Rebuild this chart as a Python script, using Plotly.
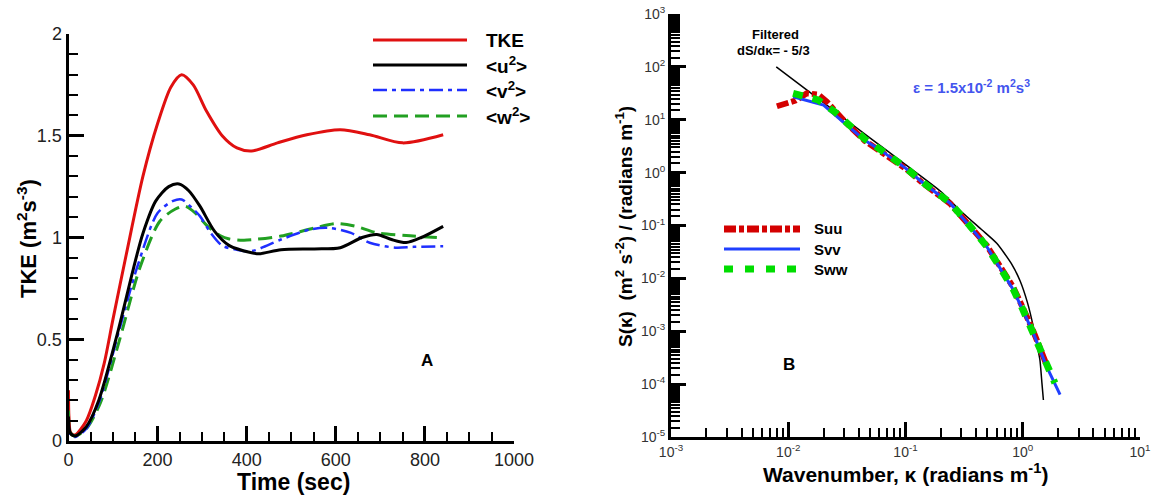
import plotly.graph_objects as go

# ---- panel A: TKE time series ----
t_tke = [0, 1, 5, 15, 40, 60, 80, 100, 130, 167, 200, 230, 254, 280, 310, 345, 378, 411, 469, 535, 610, 676, 750, 841]
tke = [0.25, 0.12, 0.04, 0.03, 0.10, 0.22, 0.38, 0.60, 0.92, 1.30, 1.56, 1.74, 1.80, 1.75, 1.62, 1.50, 1.44, 1.425, 1.465, 1.505, 1.53, 1.505, 1.465, 1.505]

t_u = [0, 4, 15, 40, 68, 110, 146, 167, 196, 225, 248, 270, 295, 328, 361, 411, 428, 477, 552, 610, 659, 692, 725, 758, 792, 841]
uu = [0.12, 0.04, 0.025, 0.07, 0.20, 0.53, 0.85, 1.02, 1.18, 1.25, 1.263, 1.23, 1.154, 1.03, 0.96, 0.925, 0.92, 0.94, 0.944, 0.95, 1.0, 1.015, 0.99, 0.975, 1.0, 1.055]

t_v = [0, 4, 15, 40, 70, 112, 155, 200, 235, 254, 275, 295, 320, 345, 378, 411, 477, 543, 585, 634, 676, 734, 775, 841]
vv = [0.10, 0.03, 0.02, 0.06, 0.20, 0.53, 0.86, 1.12, 1.18, 1.187, 1.15, 1.105, 1.02, 0.96, 0.94, 0.933, 0.99, 1.04, 1.047, 1.023, 0.974, 0.95, 0.954, 0.957]

t_w = [0, 4, 15, 40, 72, 115, 160, 205, 240, 262, 285, 312, 340, 361, 394, 477, 552, 601, 643, 692, 758, 841]
ww = [0.15, 0.04, 0.025, 0.06, 0.19, 0.50, 0.85, 1.08, 1.14, 1.154, 1.12, 1.056, 1.01, 0.993, 0.987, 1.007, 1.047, 1.069, 1.056, 1.023, 1.01, 0.998]

# ---- panel B: spectra ----
k_filt = [0.0079, 0.02, 0.05, 0.1, 0.2, 0.31, 0.45, 0.6, 0.8, 0.95, 1.1, 1.23, 1.32, 1.4, 1.46, 1.5]
s_filt = [100, 21, 4.5, 1.42, 0.44, 0.17, 0.082, 0.046, 0.019, 0.0089, 0.0034, 0.00123, 0.00056, 0.00029, 0.0001, 0.00005]

k_uu = [0.008, 0.0115, 0.0144, 0.018, 0.0213, 0.03, 0.045, 0.0607, 0.1, 0.142, 0.24, 0.355, 0.493, 0.65, 0.83, 1.0, 1.23, 1.6]
s_uu = [18, 23, 31.6, 30, 22, 9.5, 4.0, 2.6, 1.2, 0.62, 0.26, 0.097, 0.042, 0.016, 0.0068, 0.0028, 0.001, 0.00023]

k_vv = [0.011, 0.02, 0.0316, 0.045, 0.0607, 0.1, 0.142, 0.24, 0.355, 0.493, 0.65, 0.83, 1.0, 1.23, 1.6, 2.08]
s_vv = [27.3, 19, 7.9, 4.1, 2.69, 1.22, 0.63, 0.264, 0.095, 0.04, 0.0148, 0.0061, 0.0025, 0.00092, 0.000215, 0.000063]

k_ww = [0.011, 0.018, 0.025, 0.0316, 0.045, 0.0607, 0.1, 0.142, 0.24, 0.355, 0.493, 0.65, 0.83, 1.0, 1.23, 1.6, 1.88]
s_ww = [31.6, 23.7, 14, 8.5, 4.3, 2.75, 1.25, 0.64, 0.27, 0.098, 0.04, 0.0152, 0.0062, 0.0026, 0.00094, 0.00022, 0.000105]

W, H = 1154, 498
FONT = "Arial, Liberation Sans, sans-serif"
RED_A, BLUE_A, GREEN_A = "#e01010", "#1f2fff", "#22a022"
RED_B, BLUE_B, GREEN_B = "#d40000", "#2040ff", "#00dd00"


def px(x):
    return x / W


def py(y):
    return 1 - y / H


fig = go.Figure()

sp = dict(shape="spline", smoothing=0.8)
fig.add_trace(go.Scatter(x=t_tke, y=tke, mode="lines", line=dict(color=RED_A, width=3, **sp), xaxis="x", yaxis="y"))
fig.add_trace(go.Scatter(x=t_w, y=ww, mode="lines", line=dict(color=GREEN_A, width=3, dash="14px,7px", **sp), xaxis="x", yaxis="y"))
fig.add_trace(go.Scatter(x=t_v, y=vv, mode="lines", line=dict(color=BLUE_A, width=2.5, dash="14px,5px,4px,5px", **sp), xaxis="x", yaxis="y"))
fig.add_trace(go.Scatter(x=t_u, y=uu, mode="lines", line=dict(color="black", width=3, **sp), xaxis="x", yaxis="y"))

fig.add_trace(go.Scatter(x=k_filt, y=s_filt, mode="lines", line=dict(color="black", width=1.5, shape="spline", smoothing=0.6), xaxis="x2", yaxis="y2"))
fig.add_trace(go.Scatter(x=k_uu, y=s_uu, mode="lines", line=dict(color=RED_B, width=6, dash="12px,3px,5px,3px"), xaxis="x2", yaxis="y2"))
fig.add_trace(go.Scatter(x=k_vv, y=s_vv, mode="lines", line=dict(color=BLUE_B, width=3), xaxis="x2", yaxis="y2"))
fig.add_trace(go.Scatter(x=k_ww, y=s_ww, mode="lines", line=dict(color=GREEN_B, width=7, dash="10px,10px"), xaxis="x2", yaxis="y2"))

axis_common = dict(showgrid=False, zeroline=False, showline=True, linecolor="black", linewidth=3,
                   ticks="inside", ticklen=15, tickwidth=3, tickcolor="black", mirror=False, automargin=False)

fig.update_layout(
    width=W, height=H, margin=dict(l=0, r=0, t=0, b=0, autoexpand=False),
    paper_bgcolor="white", plot_bgcolor="white", showlegend=False,
    font=dict(family=FONT, color="#222"),
    xaxis=dict(domain=[px(68.5), px(514)], range=[0, 1000], dtick=200, anchor="y",
               tickfont=dict(size=18, color="#222"),
               minor=dict(dtick=50, ticks="inside", ticklen=9, tickwidth=1.5, tickcolor="black"),
               **axis_common),
    yaxis=dict(domain=[py(441), py(34)], range=[0, 2], dtick=0.5, anchor="x",
               tickfont=dict(size=18, color="#222"),
               minor=dict(dtick=0.1, ticks="inside", ticklen=9, tickwidth=1.5, tickcolor="black"),
               **axis_common),
    xaxis2=dict(domain=[px(671), px(1140)], type="log", range=[-3, 1], anchor="y2",
                tickmode="array", tickvals=[1e-3, 1e-2, 1e-1, 1, 10],
                ticktext=["10<sup>-3</sup>", "10<sup>-2</sup>", "10<sup>-1</sup>", "10<sup>0</sup>", "10<sup>1</sup>"],
                tickfont=dict(size=14, color="#333"),
                minor=dict(tickvals=[m * 10.0 ** e for e in range(-3, 1) for m in range(2, 10)],
                           ticks="inside", ticklen=9, tickwidth=1.5, tickcolor="black"),
                **axis_common),
    yaxis2=dict(domain=[py(437), py(14)], type="log", range=[-5, 3], anchor="x2",
                tickmode="array", tickvals=[10.0 ** e for e in range(-5, 4)],
                ticktext=["10<sup>%d</sup>" % e for e in range(-5, 4)],
                tickfont=dict(size=14, color="#333"),
                minor=dict(tickvals=[m / 2 * 10.0 ** e for e in range(-5, 3) for m in range(3, 20)],
                           ticks="inside", ticklen=9, tickwidth=1.5, tickcolor="black"),
                **axis_common),
)

shapes = []
anns = []


def legend_item(x0, x1, y, color, width, dash, label, tx, size):
    shapes.append(dict(type="line", xref="paper", yref="paper", x0=px(x0), x1=px(x1), y0=py(y), y1=py(y),
                       line=dict(color=color, width=width, dash=dash)))
    anns.append(dict(text=label, x=px(tx), y=py(y), xref="paper", yref="paper", xanchor="left", yanchor="middle",
                     showarrow=False, font=dict(size=size, color="black", family=FONT)))


legend_item(373, 467, 40, RED_A, 3, "solid", "<b>TKE</b>", 484, 19)
legend_item(373, 467, 65, "black", 3, "solid", "<b>&lt;u<sup>2</sup>&gt;</b>", 484, 19)
legend_item(373, 467, 90, BLUE_A, 2.5, "14px,5px,4px,5px", "<b>&lt;v<sup>2</sup>&gt;</b>", 484, 19)
legend_item(373, 467, 116, GREEN_A, 3, "14px,7px", "<b>&lt;w<sup>2</sup>&gt;</b>", 484, 19)

legend_item(724, 800, 229, RED_B, 7, "12px,3px,5px,3px", "<b>Suu</b>", 812, 15)
legend_item(724, 800, 249, BLUE_B, 3, "solid", "<b>Svv</b>", 812, 15)
legend_item(724, 800, 269, GREEN_B, 7, "9px,12px", "<b>Sww</b>", 812, 15)


def label(text, x, y, size, color="black", angle=0):
    anns.append(dict(text=text, x=px(x), y=py(y), xref="paper", yref="paper", xanchor="center", yanchor="middle",
                     showarrow=False, textangle=angle, font=dict(size=size, color=color, family=FONT)))


label("<b>Time (sec)</b>", 293, 482, 23)
label("<b>TKE (m<sup>2</sup>s<sup>-3</sup>)</b>", 27, 239, 22, angle=-90)
label("<b>A</b>", 427, 360, 17)

label("<b>Wavenumber, κ (radians m<sup>-1</sup>)</b>", 905, 473, 21)
label("<b>S(κ)  (m<sup>2</sup> s<sup>-2</sup>) / (radians m<sup>-1</sup>)</b>", 624, 227, 19, angle=-90)
label("<b>Filtered</b>", 775, 35, 13)
label("<b>dS/dκ= - 5/3</b>", 773, 51, 13)
label("<b>ε = 1.5x10<sup>-2</sup> m<sup>2</sup>s<sup>3</sup></b>", 971, 86, 15, color="#4455ee")
label("<b>B</b>", 789, 364, 17)

fig.update_layout(shapes=shapes, annotations=anns)
# page body has a default 8px margin; drop it so the figure sits at the window origin
fig.write_html("out.html", config={"displayModeBar": False},
               post_script="document.body.style.margin='0';document.body.style.overflow='hidden';")
